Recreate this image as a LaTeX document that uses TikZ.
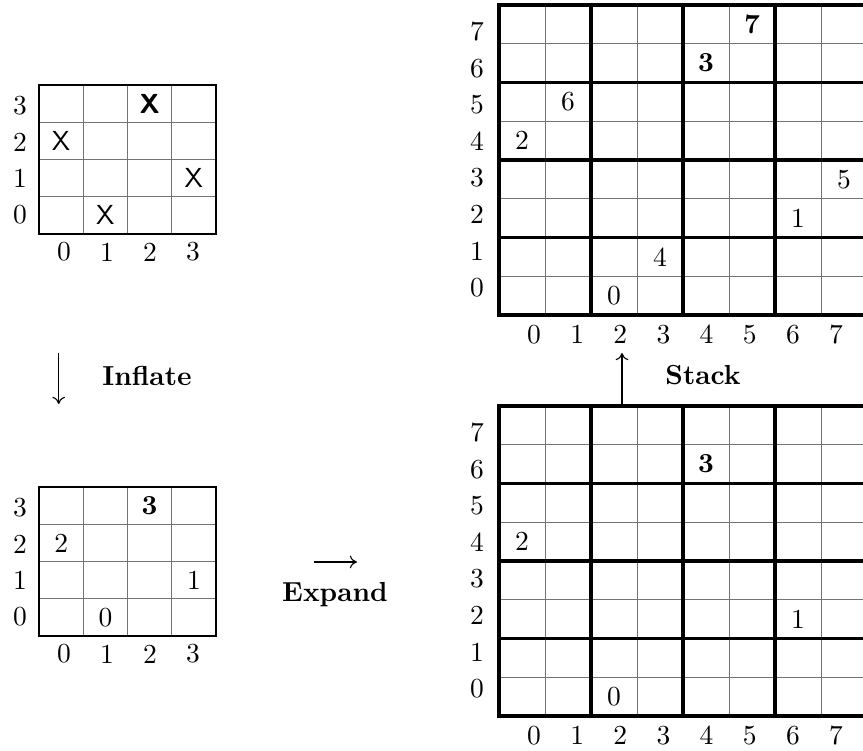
\documentclass[tikz,border=0pt]{standalone}
\usetikzlibrary{arrows.meta}
\tikzset{
  thingrid/.style={black!55, line width=0.36pt},
  boldgrid/.style={black, line width=1.3pt},
  smallframe/.style={black, line width=0.6pt},
  opname/.style={font=\bfseries, anchor=base},
  flow/.style={-{To[length=2.6pt,width=4.6pt]}, line width=0.4pt}
}
\begin{document}
\begin{tikzpicture}[x=0.3636pt, y=-0.3636pt]
  \useasboundingbox (0,0) rectangle (863,751);

  % the two small grids
  \foreach \oy/\gn in {234/a,636/b} {
    \begin{scope}[shift={(39,\oy)}, x=16.09pt, y=13.545pt]
      \foreach \k in {1,2,3} {\draw[thingrid] (\k,0) -- (\k,4); \draw[thingrid] (0,\k) -- (4,\k);}
      \draw[smallframe] (0,0) rectangle (4,4);
    \end{scope}
    \foreach \k in {0,...,3} {\node (\gn row\k) at (20,{\oy-19-36.5*\k}) {\k}; \node (\gn col\k) at ({64+43*\k},{\oy+18}) {\k};}
  }
  \begin{scope}[shift={(39,234)}, x=16.09pt, y=13.545pt]
    \node (ax23) at (2.5,3.5) {\textsf{\bfseries X}}; \node (ax02) at (0.5,2.5) {\textsf{X}};
    \node (ax31) at (3.5,1.5) {\textsf{X}};            \node (ax10) at (1.5,0.5) {\textsf{X}};
  \end{scope}
  \begin{scope}[shift={(39,636)}, x=16.09pt, y=13.545pt]
    \node (bx23) at (2.5,3.5) {\textbf{3}}; \node (bx02) at (0.5,2.5) {2};
    \node (bx31) at (3.5,1.5) {1};          \node (bx10) at (1.5,0.5) {0};
  \end{scope}

  % the two large grids
  \foreach \oy/\gn in {315/c,716/d} {
    \begin{scope}[shift={(499,\oy)}, x=16.73pt, y=14.09pt]
      \foreach \k in {1,...,7} {\draw[thingrid] (\k,0) -- (\k,8); \draw[thingrid] (0,\k) -- (8,\k);}
      \foreach \k in {2,4,6} {\draw[boldgrid] (\k,0) -- (\k,8); \draw[boldgrid] (0,\k) -- (8,\k);}
      \draw[boldgrid] (0,0) rectangle (8,8);
    \end{scope}
    \foreach \k in {0,...,7} {\node (\gn row\k) at (477,{\oy-27.5-36.5*\k}) {\k}; \node (\gn col\k) at ({534+43.15*\k},{\oy+19.5}) {\k};}
  }
  \begin{scope}[shift={(499,315)}, x=16.73pt, y=14.09pt]
    \node (cx57) at (5.5,7.5) {\textbf{7}}; \node (cx46) at (4.5,6.5) {\textbf{3}};
    \node (cx15) at (1.5,5.5) {6};          \node (cx04) at (0.5,4.5) {2};
    \node (cx73) at (7.5,3.5) {5};          \node (cx62) at (6.5,2.5) {1};
    \node (cx31) at (3.5,1.5) {4};          \node (cx20) at (2.5,0.5) {0};
  \end{scope}
  \begin{scope}[shift={(499,716)}, x=16.73pt, y=14.09pt]
    \node (dx46) at (4.5,6.5) {\textbf{3}}; \node (dx04) at (0.5,4.5) {2};
    \node (dx62) at (6.5,2.5) {1};          \node (dx20) at (2.5,0.5) {0};
  \end{scope}

  % steps
  \coordinate (inflatetop) at (58.7,353); \coordinate (inflatebot) at (58.7,404);
  \draw[flow] (inflatetop) -- (inflatebot); \node[opname] (inflate) at (147,386) {Inflate};
  \coordinate (expandtail) at (314,562); \coordinate (expandhead) at (357,562);
  \draw[flow] (expandtail) -- (expandhead); \node[opname] (expand) at (335,602) {Expand};
  \coordinate (stackfoot) at (622,406); \coordinate (stackhead) at (622,353);
  \draw[flow] (stackfoot) -- (stackhead); \node[opname] (stack) at (703,385) {Stack};
\end{tikzpicture}
\end{document}
